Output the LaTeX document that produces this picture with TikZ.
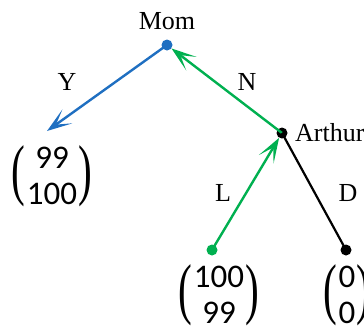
\documentclass[tikz,border=0pt]{standalone}
\usepackage{fontspec}
\setmainfont{Liberation Serif}
\newfontfamily\carl{Carlito}
\usetikzlibrary{arrows.meta}
\definecolor{momblue}{HTML}{1F6FC1}
\definecolor{nashgreen}{HTML}{00B050}
% stretched serif parentheses around two stacked numbers
\newcommand{\bigparen}[1]{\vcenter{\hbox{\rmfamily\scalebox{1.25}[2.05]{#1}}}}
\newcommand{\payoff}[2]{$\bigparen{(}\mkern1mu\vcenter{\halign{\hfil##\hfil\cr #1\cr #2\cr}}\mkern1mu\bigparen{)}$}

\begin{document}
\begin{tikzpicture}[x=1pt,y=-1pt,
    dot/.style={circle,fill,inner sep=0pt,minimum size=11pt},
    move/.style={line width=2.4pt,-{Stealth[length=25pt,width=17pt,inset=14pt]}},
    plain/.style={line width=2.2pt},
    lbl/.style={font=\fontsize{26}{30}\selectfont},
    pay/.style={font=\carl\fontsize{33}{36}\selectfont,inner sep=0pt}]
  \useasboundingbox (0,0) rectangle (364,327);
  % Decision nodes
  \node[dot,momblue] (mom) at (167,45) {};
  \node[dot] (arthur) at (282,133) {};
  \node[dot,nashgreen] (leafL) at (212,250) {};
  \node[dot] (leafD) at (346,250) {};
  \coordinate (leafY) at (47,131);
  % Moves
  \draw[move,momblue] (mom.center) -- (leafY);
  \draw[move,nashgreen] (arthur.center) -- (mom);
  \draw[move,nashgreen] (leafL.center) -- (arthur);
  \draw[plain] (arthur.center) -- (leafD.center);
  % Labels
  \node[lbl] at (167,21) {Mom};
  \node[lbl,anchor=west,inner sep=0pt] at (295,133) {Arthur};
  \node[lbl] at (67,82) {Y};
  \node[lbl] at (247,82) {N};
  \node[lbl] at (223,193) {L};
  \node[lbl] at (348,193) {D};
  % Payoffs
  \node[pay] (payY) at (52,176) {\payoff{99}{100}};
  \node[pay] (payL) at (219,295) {\payoff{100}{99}};
  \node[pay] (payD) at (347,295) {\payoff{0}{0}};
\end{tikzpicture}
\end{document}
